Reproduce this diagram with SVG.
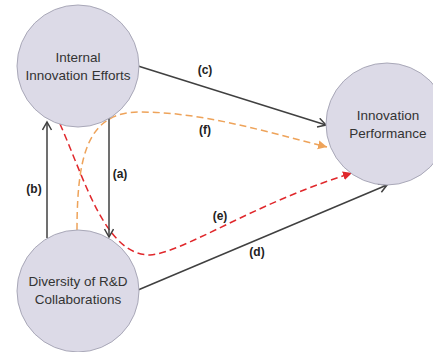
<svg xmlns="http://www.w3.org/2000/svg" width="433" height="352" viewBox="0 0 433 352">
<style>
.node{fill:#dcdae7;stroke:#a9a8b8;stroke-width:1}
.lbl{font-family:"Liberation Sans",Arial,sans-serif;font-size:13.5px;fill:#333;text-anchor:middle}
.tag{font-family:"Liberation Sans",Arial,sans-serif;font-size:12px;font-weight:bold;fill:#222;text-anchor:middle}
.solid{fill:none;stroke:#404040;stroke-width:1.5}
.red{fill:none;stroke:#e0282c;stroke-width:1.5;stroke-dasharray:7 4}
.orange{fill:none;stroke:#eea35a;stroke-width:1.5;stroke-dasharray:7 4}
</style>
<defs>
<marker id="open" markerUnits="userSpaceOnUse" markerWidth="12" markerHeight="12" refX="9" refY="5" orient="auto">
<path d="M1,0.5 L9,5 L1,9.5" fill="none" stroke="#404040" stroke-width="1.5"/>
</marker>
<marker id="redhead" markerUnits="userSpaceOnUse" markerWidth="12" markerHeight="12" refX="9" refY="4.5" orient="auto">
<path d="M0,0 L9,4.5 L0,9 Z" fill="#e0282c"/>
</marker>
<marker id="orangehead" markerUnits="userSpaceOnUse" markerWidth="12" markerHeight="12" refX="9" refY="4.5" orient="auto">
<path d="M0,0 L9,4.5 L0,9 Z" fill="#eea35a"/>
</marker>
</defs>
<rect width="433" height="352" fill="#ffffff"/>
<g id="connectors">
<path class="orange" d="M77,230 C77,150 90,112 140,112 C200,112 260,130 327,147" marker-end="url(#orangehead)"/>
<path class="red" d="M60,124 C85,180 105,255 150,255 C185,252 250,205 352,173" marker-end="url(#redhead)"/>
<line class="solid" x1="138" y1="66" x2="326" y2="125" marker-end="url(#open)"/>
<line class="solid" x1="47" y1="238" x2="47" y2="122" marker-end="url(#open)"/>
<line class="solid" x1="109" y1="117" x2="109" y2="237" marker-end="url(#open)"/>
<line class="solid" x1="138" y1="290" x2="387" y2="185" marker-end="url(#open)"/>
<text class="tag" x="205" y="74">(c)</text>
<text class="tag" x="205" y="134">(f)</text>
<text class="tag" x="120" y="178">(a)</text>
<text class="tag" x="34" y="193">(b)</text>
<text class="tag" x="220" y="220">(e)</text>
<text class="tag" x="257" y="256">(d)</text>
</g>
<g id="internal">
<circle class="node" cx="78" cy="66" r="61"/>
<text class="lbl" x="78" y="62">Internal</text>
<text class="lbl" x="78" y="80">Innovation Efforts</text>
</g>
<g id="diversity">
<circle class="node" cx="78" cy="291" r="61"/>
<text class="lbl" x="78" y="286">Diversity of R&amp;D</text>
<text class="lbl" x="78" y="304">Collaborations</text>
</g>
<g id="performance">
<circle class="node" cx="387" cy="124" r="61"/>
<text class="lbl" x="388" y="120">Innovation</text>
<text class="lbl" x="388" y="138">Performance</text>
</g>
</svg>
